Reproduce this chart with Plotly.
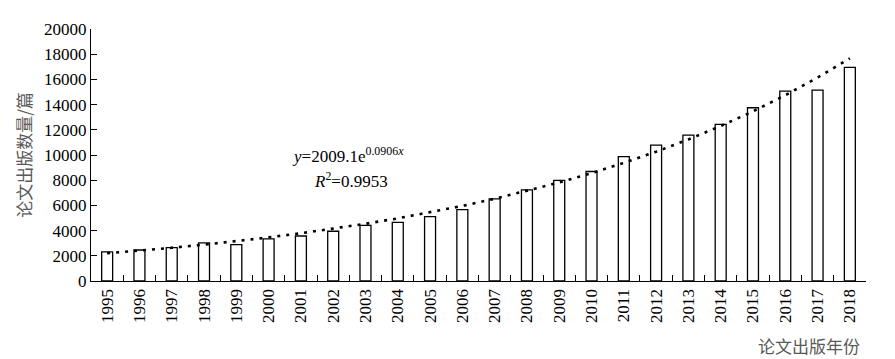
import numpy as np
import plotly.graph_objects as go

years = [str(y) for y in range(1995, 2019)]
papers = [2310, 2460, 2650, 3030, 2880, 3340, 3570, 3950, 4410, 4660, 5110, 5660,
          6510, 7240, 7990, 8690, 9870, 10790, 11570, 12430, 13750, 15070, 15150, 16960]
trend_a = 2009.1
trend_b = 0.0906
r_squared = 0.9953
y_ticks = list(range(0, 20001, 2000))
y_tick_text = [str(v) for v in y_ticks]

idx = np.arange(1, len(years) + 1)
trend = trend_a * np.exp(trend_b * idx)

serif = "Times New Roman, Liberation Serif, serif"
cjk = "Noto Sans CJK SC"

fig = go.Figure()
fig.add_trace(go.Bar(
    x=years, y=papers, width=0.34,
    marker=dict(color="white", line=dict(color="black", width=1.3)),
    showlegend=False,
))
fig.add_trace(go.Scatter(
    x=years, y=trend, mode="lines",
    line=dict(color="black", width=2.6, dash="3px,6px"),
    showlegend=False,
))

fig.update_layout(
    width=887, height=351,
    margin=dict(l=83, r=29, t=16, b=78),
    plot_bgcolor="white", paper_bgcolor="white",
    font=dict(family=serif, size=17, color="black"),
    xaxis=dict(
        type="category", showline=True, linecolor="black", linewidth=1.3,
        ticks="inside", ticklen=6, tickcolor="black", tickwidth=1.3,
        tickson="boundaries", tickangle=-90, showgrid=False, zeroline=False,
        tickfont=dict(family=serif, size=17, color="black"),
    ),
    yaxis=dict(
        range=[0, 20000], tickvals=y_ticks, ticktext=y_tick_text, showline=True,
        linecolor="black", linewidth=1.3, ticks="inside", ticklen=6,
        tickcolor="black", tickwidth=1.3, showgrid=False, zeroline=False,
        tickfont=dict(family=serif, size=17, color="black"),
    ),
    annotations=[
        dict(text="<i>y</i>=%.1fe<sup>%.4f<i>x</i></sup>" % (trend_a, trend_b),
             xref="paper", yref="paper", x=0.332, y=0.50, xanchor="center", yanchor="middle",
             showarrow=False, font=dict(family=serif, size=17, color="black")),
        dict(text="<i>R</i><sup>2</sup>=%.4f" % r_squared,
             xref="paper", yref="paper", x=0.335, y=0.40, xanchor="center", yanchor="middle",
             showarrow=False, font=dict(family=serif, size=17, color="black")),
        dict(text="论文出版数量/篇", xref="paper", yref="paper", x=-0.088, y=0.5,
             textangle=-90, xanchor="center", yanchor="middle", showarrow=False,
             font=dict(family=cjk, size=17, color="#595959")),
        dict(text="论文出版年份", xref="paper", yref="paper", x=0.995, y=-0.2,
             xanchor="right", yanchor="top", showarrow=False,
             font=dict(family=cjk, size=17, color="#595959")),
    ],
)

fig.write_html("out.html")
